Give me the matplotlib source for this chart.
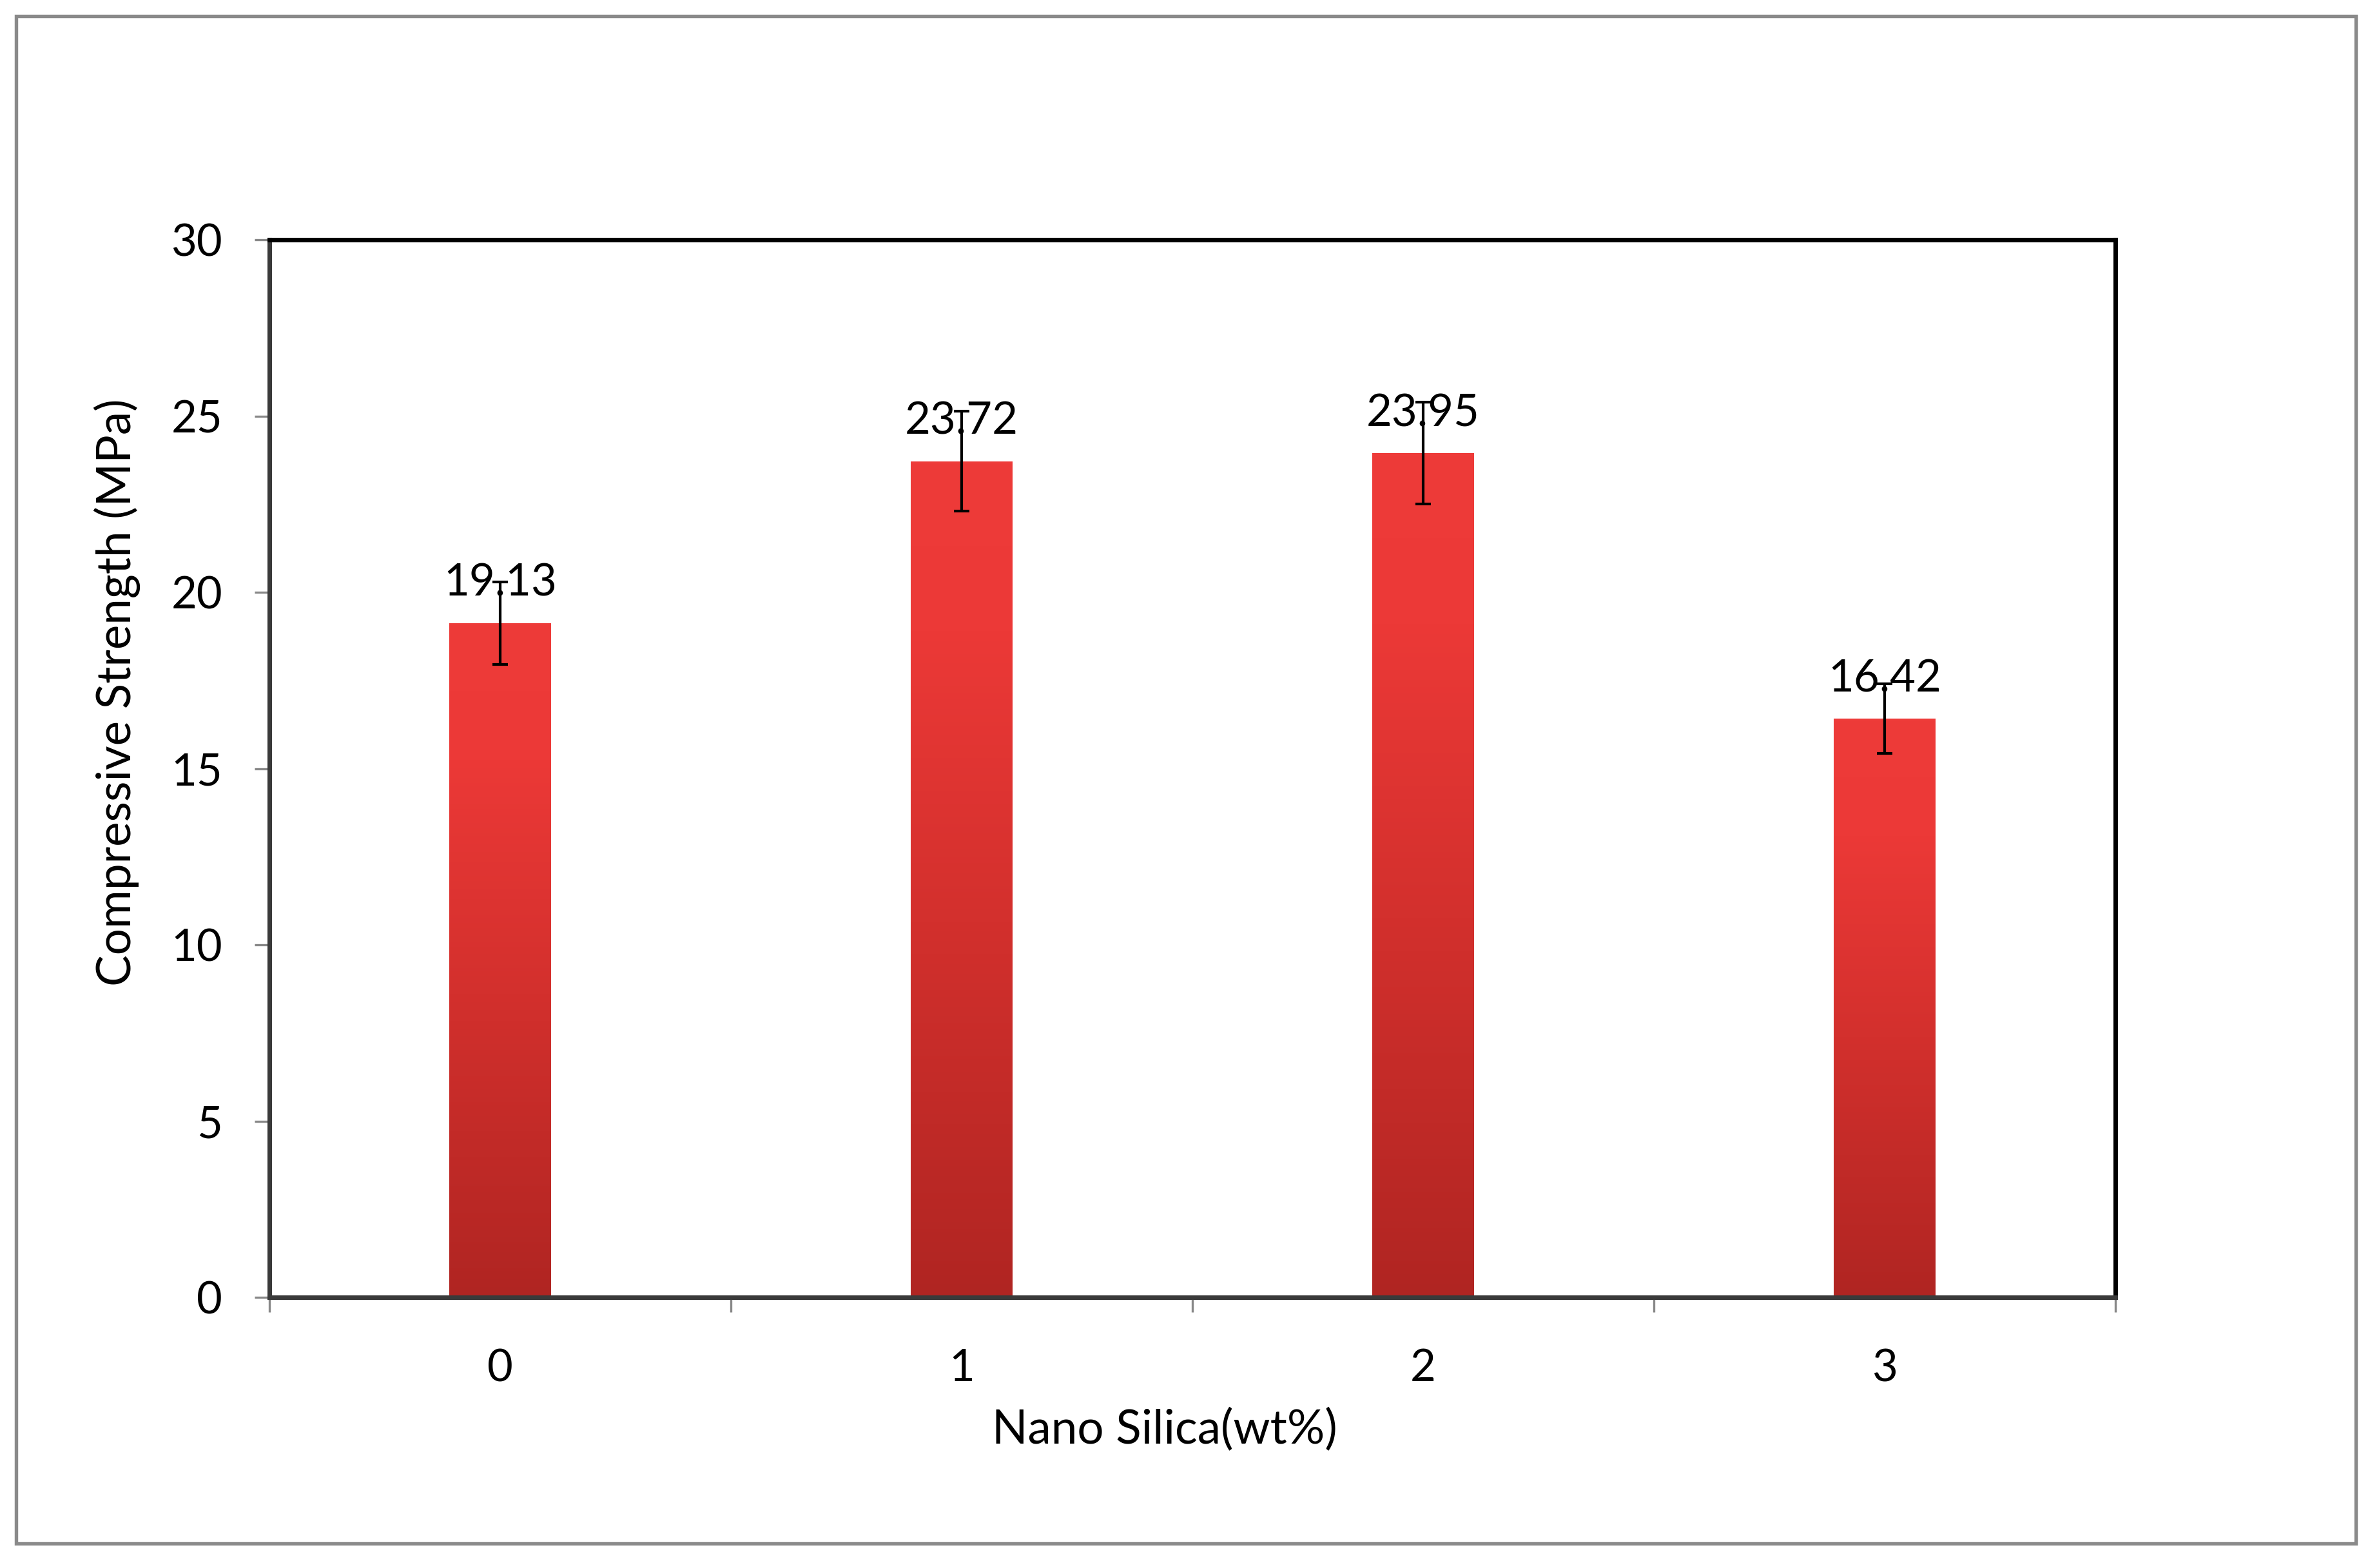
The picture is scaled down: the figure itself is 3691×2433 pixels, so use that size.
"""
Compressive strength vs nano silica content, bar chart with error bars
"""

import matplotlib.pyplot as plt
import numpy as np
from matplotlib.colors import LinearSegmentedColormap
from matplotlib.patches import Rectangle

nano_silica = ['0', '1', '2', '3']
strength = [19.13, 23.72, 23.95, 16.42]
strength_err = [1.17, 1.42, 1.44, 0.99]
value_labels = ['19.13', '23.72', '23.95', '16.42']

plt.rcParams['font.family'] = ['Lato', 'DejaVu Sans']

W, H = 3691, 2433
fig = plt.figure(figsize=(W/300, H/300), dpi=300)
fig.patch.set_facecolor('white')

# outer gray frame around the whole chart
fig.patches.append(Rectangle((25/W, 38/H), (3655-25)/W, (H-25-38)/H,
                             transform=fig.transFigure, fill=False,
                             ec='#8a8a8a', lw=1.3))

ax = fig.add_axes([418/W, 1-2013/H, (3282-418)/W, (2013-372)/H])

x = np.arange(len(strength))
bars = ax.bar(x, strength, width=0.22, color='none', edgecolor='none', zorder=2)
ax.errorbar(x, strength, yerr=strength_err, fmt='none', ecolor='black',
            elinewidth=1.0, capsize=2.8, capthick=1.0, zorder=4)

# vertical gradient inside each bar (dark at bottom, bright red on top)
cmap = LinearSegmentedColormap.from_list('redgrad', [(0.0, '#B02522'), (0.45, '#D3302D'),
                                                     (0.8, '#EC3937'), (1.0, '#EE3B39')])
grad = np.linspace(0, 1, 256).reshape(-1, 1)
for b in bars:
    bx, by = b.get_x(), b.get_y()
    im = ax.imshow(grad, cmap=cmap, origin='lower', aspect='auto',
                   extent=[bx, bx + b.get_width(), by, by + b.get_height()], zorder=2)
    im.set_clip_path(b)

for xi, v, lab in zip(x, strength, value_labels):
    ax.annotate(lab, (xi, v), xytext=(0, 10), textcoords='offset points',
                ha='center', va='baseline', fontsize=16.5, zorder=5)

ax.set_xlim(-0.5, 3.5)
ax.set_ylim(0, 30)
ax.set_yticks(np.arange(0, 31, 5))
ax.set_xticks(np.arange(-0.5, 3.6, 1.0))
ax.set_xticklabels([])
ax.set_xticks(x, minor=True)
ax.set_xticklabels(nano_silica, minor=True)
ax.tick_params(axis='x', which='minor', length=0, pad=19, labelsize=16.5)
ax.tick_params(axis='x', which='major', length=5.5, width=0.8, color='#888888', direction='out')
ax.tick_params(axis='y', length=5.5, width=0.8, color='#888888', direction='out',
               pad=12, labelsize=16.5)

for side in ['top', 'right']:
    ax.spines[side].set_linewidth(1.7)
    ax.spines[side].set_color('black')
for side in ['left', 'bottom']:
    ax.spines[side].set_linewidth(1.7)
    ax.spines[side].set_color('#3a3a3a')
for s in ax.spines.values():
    s.set_zorder(6)

ax.set_xlabel('Nano Silica(wt%)', fontsize=17.5)
ax.xaxis.set_label_coords(0.485, -0.105)
ax.set_ylabel('Compressive Strength (MPa)', fontsize=17.5)
ax.yaxis.set_label_coords(-0.07, 0.572)

fig.savefig('out.png', dpi=300)
